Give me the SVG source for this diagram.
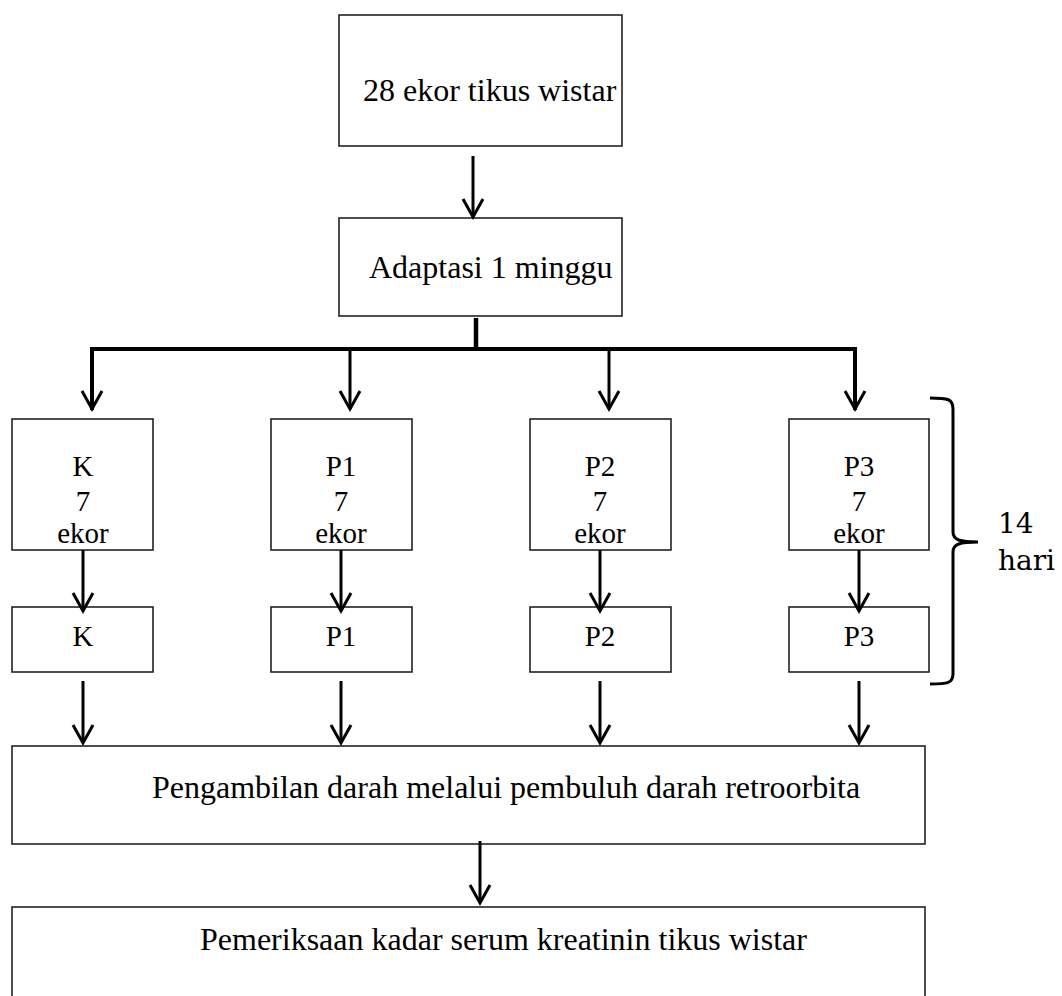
<svg xmlns="http://www.w3.org/2000/svg" width="1062" height="996" viewBox="0 0 1062 996">
<defs>
<style>
.box{fill:#fff;stroke:#222;stroke-width:1.6}
.t{font-family:"Liberation Serif","Times New Roman",serif;font-size:32px;fill:#000}
.s{font-family:"Liberation Serif","Times New Roman",serif;font-size:29px;fill:#000;text-anchor:middle}
.c{fill:none;stroke:#000;stroke-width:3;stroke-linecap:butt;stroke-linejoin:miter}
.bus{fill:none;stroke:#000;stroke-width:4.5}
.ah{fill:none;stroke:#000;stroke-width:3;stroke-linejoin:miter}
.br{fill:none;stroke:#000;stroke-width:3}
.h{font-family:"DejaVu Serif",serif;font-size:28px;fill:#000}
</style>
</defs>
<rect width="1062" height="996" fill="#fff"/>
<g id="n-top"><rect class="box" x="339" y="15" width="283" height="131"/><text class="t" x="363" y="101">28 ekor tikus wistar</text></g>
<g id="n-adaptasi"><rect class="box" x="339" y="218" width="283" height="98"/><text class="t" x="369" y="278">Adaptasi 1 minggu</text></g>
<g id="n-k"><rect class="box" x="12" y="419" width="141" height="131"/><text class="s" x="83" y="476">K</text><text class="s" x="83" y="511">7</text><text class="s" x="83" y="543">ekor</text></g>
<g id="n-p1"><rect class="box" x="271" y="419" width="141" height="131"/><text class="s" x="341" y="476">P1</text><text class="s" x="341" y="511">7</text><text class="s" x="341" y="543">ekor</text></g>
<g id="n-p2"><rect class="box" x="530" y="419" width="141" height="131"/><text class="s" x="600" y="476">P2</text><text class="s" x="600" y="511">7</text><text class="s" x="600" y="543">ekor</text></g>
<g id="n-p3"><rect class="box" x="789" y="419" width="140" height="131"/><text class="s" x="859" y="476">P3</text><text class="s" x="859" y="511">7</text><text class="s" x="859" y="543">ekor</text></g>
<g id="n-k2"><rect class="box" x="12" y="607" width="141" height="65"/><text class="s" x="83" y="646">K</text></g>
<g id="n-p1b"><rect class="box" x="271" y="607" width="141" height="65"/><text class="s" x="341" y="646">P1</text></g>
<g id="n-p2b"><rect class="box" x="530" y="607" width="141" height="65"/><text class="s" x="600" y="646">P2</text></g>
<g id="n-p3b"><rect class="box" x="789" y="607" width="140" height="65"/><text class="s" x="859" y="646">P3</text></g>
<g id="n-darah"><rect class="box" x="12" y="746" width="913" height="98"/><text class="t" x="152" y="798">Pengambilan darah melalui pembuluh darah retroorbita</text></g>
<g id="n-periksa"><rect class="box" x="12" y="907" width="913" height="120"/><text class="t" x="200" y="950">Pemeriksaan kadar serum kreatinin tikus wistar</text></g>
<g id="bracket"><path class="br" d="M930,398 C948,398 953,399 953,409 L953,532 C953,540 960,542 978,542 C960,542 953,544 953,552 L953,674 C953,683 948,684 930,684"/><text class="h" x="998" y="533">14</text><text class="h" x="998" y="570">hari</text></g>
<g id="connectors">
<line class="c" x1="473" y1="156" x2="473" y2="217"/><path class="ah" d="M463,199 L473,217 L483,199"/>
<line class="bus" x1="476" y1="318" x2="476" y2="349"/>
<polyline class="bus" points="92,410 92,349 855,349 855,410" style="stroke-width:4"/>
<line class="c" x1="350" y1="349" x2="350" y2="409"/><line class="c" x1="609" y1="349" x2="609" y2="409"/>
<path class="ah" d="M82,391 L92,409 L102,391"/><path class="ah" d="M340,391 L350,409 L360,391"/><path class="ah" d="M599,391 L609,409 L619,391"/><path class="ah" d="M845,391 L855,409 L865,391"/>
<line class="c" x1="83" y1="550" x2="83" y2="611"/><line class="c" x1="341" y1="550" x2="341" y2="611"/><line class="c" x1="600" y1="550" x2="600" y2="611"/><line class="c" x1="859" y1="550" x2="859" y2="611"/>
<path class="ah" d="M73,593 L83,611 L93,593"/><path class="ah" d="M331,593 L341,611 L351,593"/><path class="ah" d="M590,593 L600,611 L610,593"/><path class="ah" d="M849,593 L859,611 L869,593"/>
<line class="c" x1="83" y1="681" x2="83" y2="743"/><line class="c" x1="341" y1="681" x2="341" y2="743"/><line class="c" x1="600" y1="681" x2="600" y2="743"/><line class="c" x1="859" y1="681" x2="859" y2="743"/>
<path class="ah" d="M73,725 L83,743 L93,725"/><path class="ah" d="M331,725 L341,743 L351,725"/><path class="ah" d="M590,725 L600,743 L610,725"/><path class="ah" d="M849,725 L859,743 L869,725"/>
<line class="c" x1="480" y1="841" x2="480" y2="903"/><path class="ah" d="M470,885 L480,903 L490,885"/>
</g>
</svg>
